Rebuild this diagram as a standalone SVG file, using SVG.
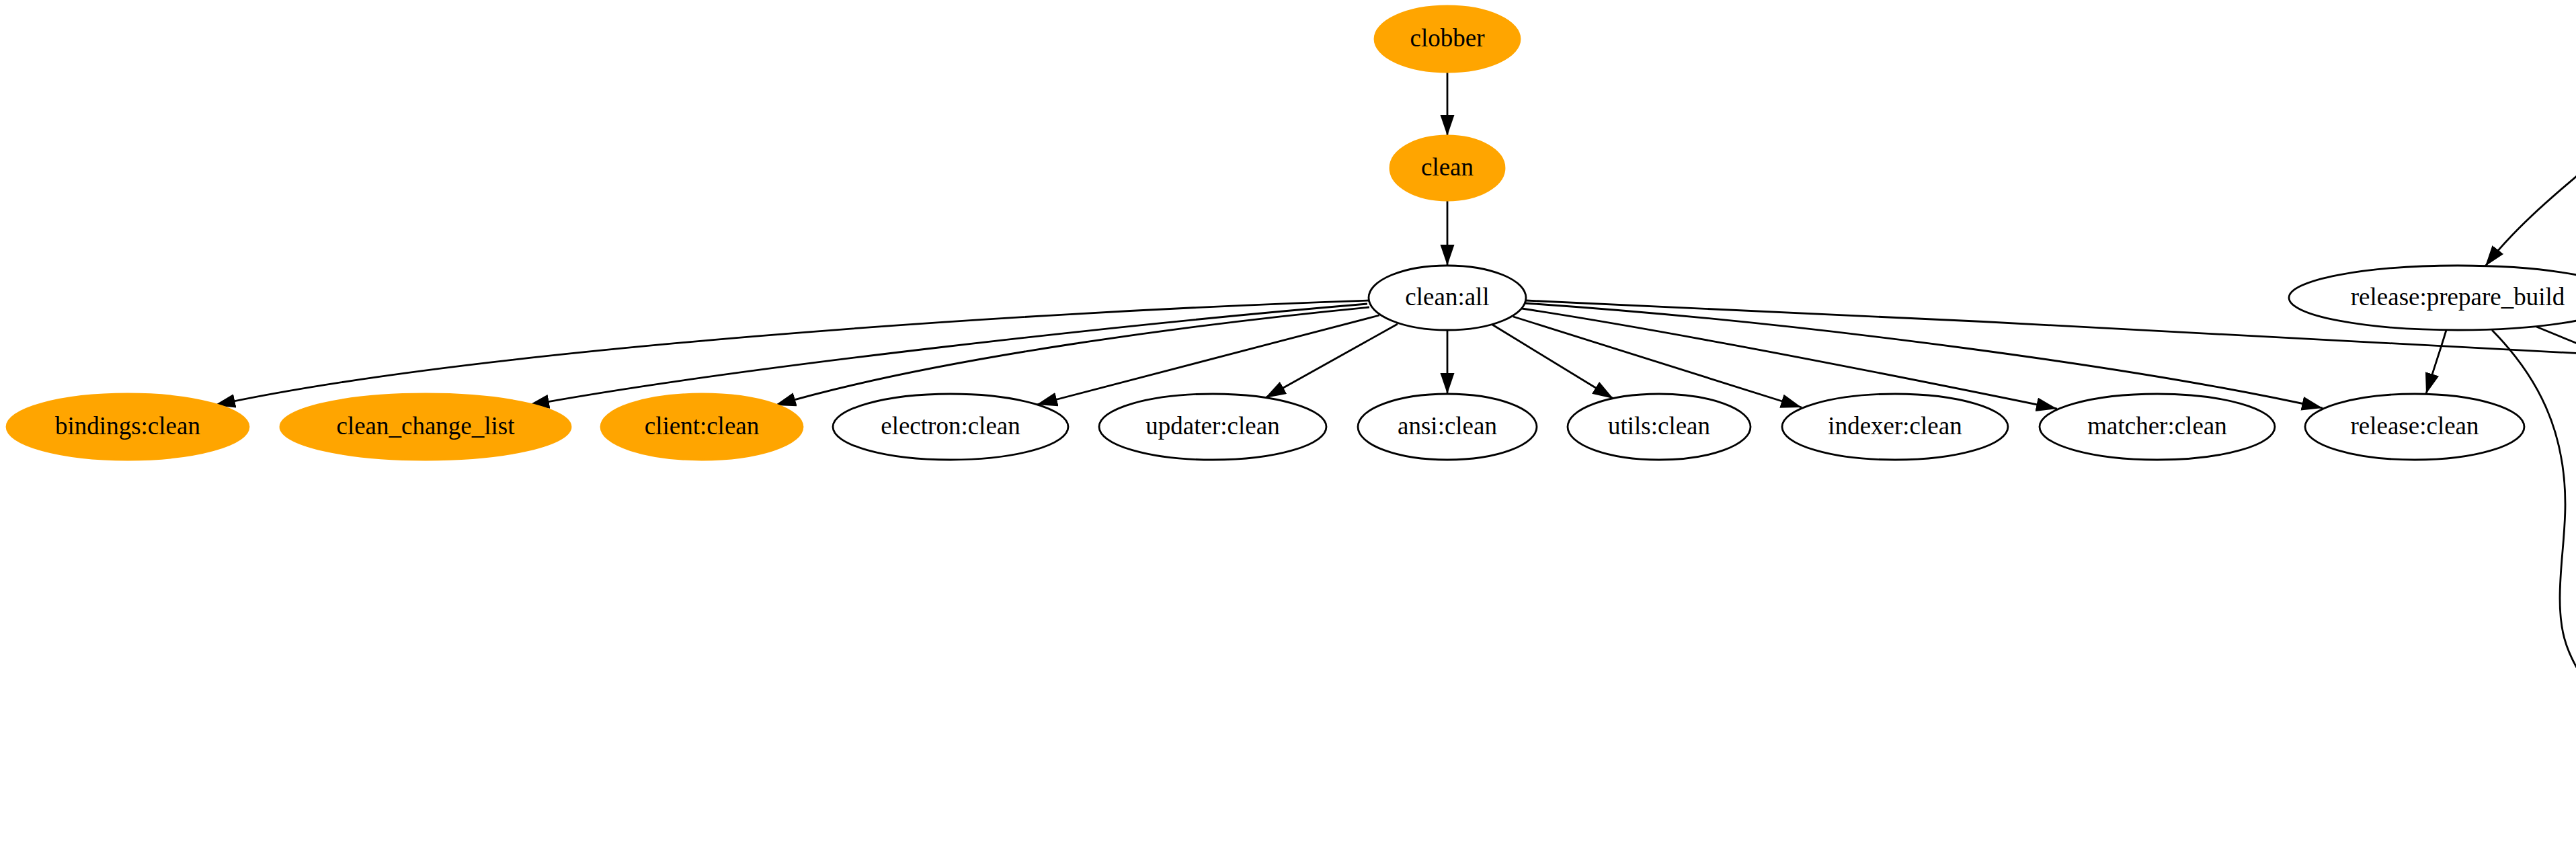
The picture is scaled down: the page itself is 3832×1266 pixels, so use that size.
<svg xmlns="http://www.w3.org/2000/svg" width="3832" height="1266" viewBox="0 0 3832 1266">
<style>
.e{fill:none;stroke:#000;stroke-width:2.8}
.n{fill:#fff;stroke:#000;stroke-width:2.8}
.o{fill:#ffa500;stroke:#ffa500;stroke-width:2.8}
text{font-family:"Liberation Serif","Times New Roman",serif;font-size:37px;fill:#000;text-anchor:middle}
</style>
<defs>
<marker id="arr" markerUnits="userSpaceOnUse" markerWidth="32" markerHeight="22" viewBox="0 0 32 22" refX="31" refY="10.5" orient="auto">
<path d="M0,0 L31,10.5 L0,21 Z" fill="#000"/>
</marker>
</defs>
<rect width="3832" height="1266" fill="#fff"/>
<g id="edges">
<path class="e" marker-end="url(#arr)" d="M2153,107 L2153,202"/>
<path class="e" marker-end="url(#arr)" d="M2153,299 L2153,395"/>
<path class="e" marker-end="url(#arr)" d="M2036,447 C1500,465 700,520 319,603"/>
<path class="e" marker-end="url(#arr)" d="M2034,452 C1700,480 1100,545 786,603"/>
<path class="e" marker-end="url(#arr)" d="M2037,457 C1800,480 1400,530 1153,603"/>
<path class="e" marker-end="url(#arr)" d="M2052,469 L1542,602"/>
<path class="e" marker-end="url(#arr)" d="M2079,482 L1882,592"/>
<path class="e" marker-end="url(#arr)" d="M2153,491 L2153,586"/>
<path class="e" marker-end="url(#arr)" d="M2220,483 L2400,593"/>
<path class="e" marker-end="url(#arr)" d="M2251,471 L2680,606"/>
<path class="e" marker-end="url(#arr)" d="M2264,459 C2500,495 2850,565 3060,608"/>
<path class="e" marker-end="url(#arr)" d="M2268,451 C2700,480 3200,550 3455,607"/>
<path class="e" d="M2270,447 C2800,470 3400,500 3900,529"/>
<path class="e" marker-end="url(#arr)" d="M3840,256 C3800,290 3740,340 3697,396"/>
<path class="e" marker-end="url(#arr)" d="M3639,491 C3632,515 3620,550 3609,586"/>
<path class="e" d="M3707,491 C3775,560 3816,640 3816,750 C3816,800 3808,840 3808,890 C3808,935 3815,965 3840,1005"/>
<path class="e" d="M3773,486 L3900,538"/>
</g>
<g id="clobber"><ellipse class="o" cx="2153" cy="58" rx="108" ry="49"/><text x="2153" y="69">clobber</text></g>
<g id="clean"><ellipse class="o" cx="2153" cy="250" rx="85" ry="48"/><text x="2153" y="261">clean</text></g>
<g id="clean_all"><ellipse class="n" cx="2153" cy="443" rx="117" ry="48"/><text x="2153" y="454">clean:all</text></g>
<g id="release_prepare_build"><ellipse class="n" cx="3656" cy="443" rx="251" ry="48"/><text x="3656" y="454">release:prepare_build</text></g>
<g id="bindings_clean"><ellipse class="o" cx="190" cy="635" rx="180" ry="49"/><text x="190" y="646">bindings:clean</text></g>
<g id="clean_change_list"><ellipse class="o" cx="633" cy="635" rx="216" ry="49"/><text x="633" y="646">clean_change_list</text></g>
<g id="client_clean"><ellipse class="o" cx="1044" cy="635" rx="150" ry="49"/><text x="1044" y="646">client:clean</text></g>
<g id="electron_clean"><ellipse class="n" cx="1414" cy="635" rx="175" ry="49"/><text x="1414" y="646">electron:clean</text></g>
<g id="updater_clean"><ellipse class="n" cx="1804" cy="635" rx="169" ry="49"/><text x="1804" y="646">updater:clean</text></g>
<g id="ansi_clean"><ellipse class="n" cx="2153" cy="635" rx="133" ry="49"/><text x="2153" y="646">ansi:clean</text></g>
<g id="utils_clean"><ellipse class="n" cx="2468" cy="635" rx="136" ry="49"/><text x="2468" y="646">utils:clean</text></g>
<g id="indexer_clean"><ellipse class="n" cx="2819" cy="635" rx="168" ry="49"/><text x="2819" y="646">indexer:clean</text></g>
<g id="matcher_clean"><ellipse class="n" cx="3209" cy="635" rx="175" ry="49"/><text x="3209" y="646">matcher:clean</text></g>
<g id="release_clean"><ellipse class="n" cx="3592" cy="635" rx="163" ry="49"/><text x="3592" y="646">release:clean</text></g>
</svg>
